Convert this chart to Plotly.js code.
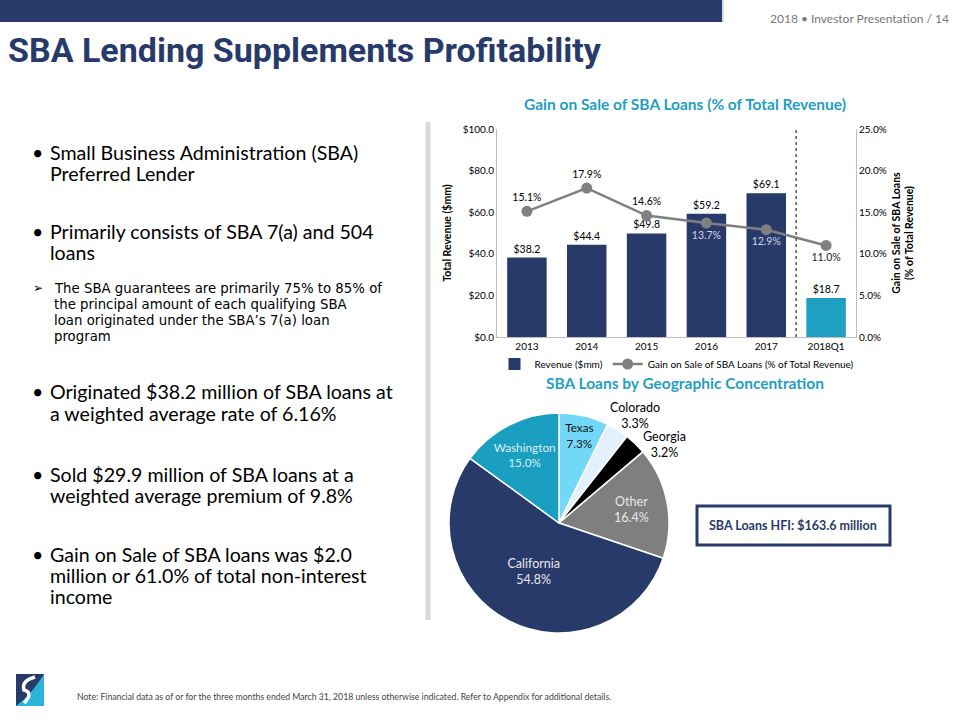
<!DOCTYPE html>
<html><head><meta charset="utf-8">
<script src="https://cdn.plot.ly/plotly-3.0.1.min.js"></script>
<style>html,body{margin:0;padding:0;background:#fff}#chart{width:960px;height:720px}</style>
</head><body><div id="chart"></div>
<script>
// ---- data ----
const years = ['2013','2014','2015','2016','2017','2018Q1'];
const revenue = [38.2, 44.4, 49.8, 59.2, 69.1, 18.7];
const gainPct = [15.1, 17.9, 14.6, 13.7, 12.9, 11.0];
const revenueLabels = ['$38.2','$44.4','$49.8','$59.2','$69.1','$18.7'];
const gainLabels = ['15.1%','17.9%','14.6%','13.7%','12.9%','11.0%'];
const states = ['Texas','Colorado','Georgia','Other','California','Washington'];
const stateShare = [7.3, 3.3, 3.2, 16.4, 54.8, 15.0];

const NAVY = '#283a6a', TEAL = '#1f9fc1', GRAY = '#808080';
const FONT = 'Lato, "Open Sans", sans-serif';
const px = x => x/960, py = y => 1 - y/720;

const bar = {
  type:'bar', x: years, y: revenue, name:'Revenue ($mm)',
  marker:{color: years.map((y,i)=> i===years.length-1 ? TEAL : NAVY)},
  width:0.66, text: revenueLabels, textposition:'outside', cliponaxis:false,
  textfont:{family:FONT, size:10.5, color:'#000'},
  hoverinfo:'skip', xaxis:'x', yaxis:'y'
};
const line = {
  type:'scatter', mode:'lines+markers+text', x: years, y: gainPct, yaxis:'y2', xaxis:'x',
  name:'Gain on Sale of SBA Loans (% of Total Revenue)',
  line:{color:GRAY, width:2.5}, marker:{color:GRAY, size:11},
  text: gainLabels,
  textposition:['top center','top center','top center','bottom center','bottom center','bottom center'],
  textfont:{family:FONT, size:10.5, color:['#000','#000','#000','#cdd6e8','#cdd6e8','#222']},
  cliponaxis:false, hoverinfo:'skip'
};
const pieText = ['inside','none','none','inside','inside','inside'];
const pie = {
  type:'pie', labels: states, values: stateShare, sort:false, direction:'clockwise', rotation:0,
  domain:{x:[px(449),px(669)], y:[py(633),py(413)]},
  marker:{colors:['#73d8f7','#e3f1fc','#000000','#7f7f7f',NAVY,'#1a9fc1'], line:{color:'#fff', width:1.5}},
  texttemplate:'%{label}<br>%{value:.1f}%',
  textposition: pieText,
  insidetextorientation:'horizontal',
  textfont:{family:FONT, size:12.5, color:['#111','#000','#000','#e8e8e8','#e8e8e8','#dceef5']},
  showlegend:false, hoverinfo:'skip'
};

const ann = [];
function T(text,x,y,size,opts={}){
  ann.push(Object.assign({text, x:px(x), y:py(y), xref:'paper', yref:'paper', showarrow:false,
    xanchor:'left', yanchor:'middle', font:{family:FONT, size, color:'#000'}}, opts));
}
T('2018 • Investor Presentation / 14', 951, 18, 12, {xanchor:'right', font:{family:FONT,size:12,color:'#777'}});
T('<b>SBA Lending Supplements Profitability</b>', 6, 50, 34, {font:{family:'Roboto, sans-serif', size:34, color:NAVY}});
// bullets
const big = 19.6;
T('•', 30, 152, big); T('Small Business Administration (SBA)', 48, 152, big); T('Preferred Lender', 48, 173, big);
T('•', 30, 232, big); T('Primarily consists of SBA 7(a) and 504', 48, 232, big); T('loans', 48, 253, big);
const SUBF = '"DejaVu Sans", sans-serif', sub = 13.3;
T('➢', 31, 288, 12, {font:{family:SUBF,size:12,color:'#000'}});
T('The SBA guarantees are primarily 75% to 85% of', 52, 288, sub, {font:{family:SUBF,size:sub,color:'#000'}});
T('the principal amount of each qualifying SBA', 52, 304, sub, {font:{family:SUBF,size:sub,color:'#000'}});
T('loan originated under the SBA’s 7(a) loan', 52, 320, sub, {font:{family:SUBF,size:sub,color:'#000'}});
T('program', 52, 336, sub, {font:{family:SUBF,size:sub,color:'#000'}});
T('•', 30, 392, big); T('Originated $38.2 million of SBA loans at', 48, 392, big); T('a weighted average rate of 6.16%', 48, 413, big);
T('•', 30, 474, big); T('Sold $29.9 million of SBA loans at a', 48, 474, big); T('weighted average premium of 9.8%', 48, 495, big);
T('•', 30, 554, big); T('Gain on Sale of SBA loans was $2.0', 48, 554, big); T('million or 61.0% of total non-interest', 48, 575, big); T('income', 48, 596, big);
// chart titles
T('<b>Gain on Sale of SBA Loans (% of Total Revenue)</b>', 685, 104, 15.5, {xanchor:'center', font:{family:FONT,size:15.5,color:TEAL}});
T('<b>SBA Loans by Geographic Concentration</b>', 685, 383, 15.5, {xanchor:'center', font:{family:FONT,size:15.5,color:TEAL}});
T('<b>SBA Loans HFI: $163.6 million</b>', 793, 525, 12.5, {xanchor:'center', font:{family:FONT,size:12.5,color:NAVY}});
T('Note: Financial data as of or for the three months ended March 31, 2018 unless otherwise indicated. Refer to Appendix for additional details.', 75, 696, 8.7, {font:{family:FONT,size:8.7,color:'#444'}});
// outside pie labels (Colorado, Georgia)
T(`${states[1]}<br>${stateShare[1].toFixed(1)}%`, 635, 416, 12.5, {xanchor:'center', font:{family:FONT,size:12.5,color:'#000'}});
T(`${states[2]}<br>${stateShare[2].toFixed(1)}%`, 664, 444, 12.5, {xanchor:'center', font:{family:FONT,size:12.5,color:'#000'}});

const shapes = [
  {type:'rect', xref:'paper', yref:'paper', x0:0, x1:px(722), y0:py(22), y1:1, fillcolor:'#293a6b', line:{width:0}},
  {type:'line', xref:'paper', yref:'paper', x0:px(723), x1:px(723), y0:py(22), y1:1, line:{color:'#bbb', width:1}},
  {type:'line', xref:'paper', yref:'paper', x0:px(428), x1:px(428), y0:py(122), y1:py(620), line:{color:'#d9d9d9', width:5}},
  {type:'line', xref:'x', yref:'y', x0:4.5, x1:4.5, y0:0, y1:103, line:{color:'#555', width:1.5, dash:'dot'}},
  {type:'rect', xref:'paper', yref:'paper', x0:px(697), x1:px(890), y0:py(545), y1:py(506), fillcolor:'#fff', line:{color:NAVY, width:3}},
  // logo
  {type:'rect', xref:'paper', yref:'paper', x0:px(16), x1:px(44), y0:py(706), y1:py(674), fillcolor:'#283a6a', line:{width:0}},
  {type:'path', xref:'paper', yref:'paper', path:`M ${px(16)} ${py(706)} L ${px(44)} ${py(706)} L ${px(44)} ${py(674)} Q ${px(32)} ${py(694)} ${px(16)} ${py(706)} Z`, fillcolor:'#2bb4d9', line:{width:0}},
  {type:'path', xref:'paper', yref:'paper', path:`M ${px(35)} ${py(677)} Q ${px(21)} ${py(681)} ${px(24)} ${py(690)} Q ${px(34)} ${py(693)} ${px(24)} ${py(703)}`, line:{color:'#fff', width:3.5}}
];

const axFont = {family:FONT, size:10, color:'#000'};
const layout = {
  width:960, height:720, margin:{l:0,r:0,t:0,b:0}, paper_bgcolor:'#fff', plot_bgcolor:'rgba(0,0,0,0)',
  font:{family:FONT},
  xaxis:{type:'category', domain:[px(497), px(856)], anchor:'y', showline:true, linecolor:'#bfbfbf', linewidth:1,
    tickfont:axFont, ticks:'', fixedrange:true},
  yaxis:{domain:[py(337), py(129)], range:[0,100], dtick:20, tickformat:'$.1f', showgrid:false, zeroline:false,
    showline:true, linecolor:'#bfbfbf', tickfont:axFont, ticks:'', 
    title:{text:'<b>Total Revenue ($mm)</b>', font:{family:FONT,size:10.5,color:'#000'}, standoff:8}},
  yaxis2:{overlaying:'y', side:'right', anchor:'x', range:[0,25], dtick:5, tickformat:'.1f', ticksuffix:'%',
    showgrid:false, zeroline:false, showline:true, linecolor:'#bfbfbf', tickfont:axFont, ticks:'',
    title:{text:'<b>Gain on Sale of SBA Loans<br>(% of Total Revenue)</b>', font:{family:FONT,size:10.5,color:'#000'}, standoff:6}},
  legend:{orientation:'h', x:px(677), xanchor:'center', y:py(364), yanchor:'middle', font:{family:FONT,size:10,color:'#000'},
    bgcolor:'rgba(0,0,0,0)', tracegroupgap:0},
  annotations: ann, shapes: shapes
};
Plotly.newPlot('chart', [bar, line, pie], layout, {displayModeBar:false, staticPlot:true});
</script></body></html>
